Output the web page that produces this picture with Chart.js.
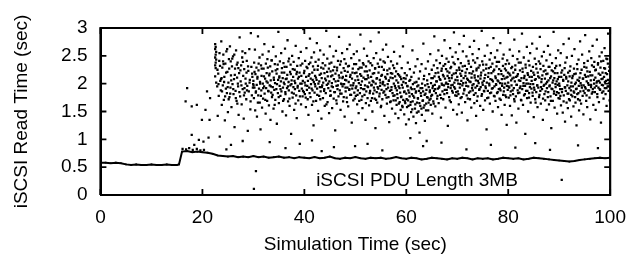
<!DOCTYPE html>
<html>
<head>
<meta charset="utf-8">
<script src="https://cdn.jsdelivr.net/npm/chart.js@4"></script>
<style>
  html, body { margin: 0; padding: 0; background: #fff; }
  #wrap { width: 637px; height: 256px; position: relative; }
</style>
</head>
<body>
<div id="wrap"><canvas id="read-chart"></canvas></div>
<script>
// tick labels
const timeTicks = [0, 20, 40, 60, 80, 100];
const readTicks = [0, 0.5, 1, 1.5, 2, 2.5, 3];

// the dense "floor" of read times
const baselineTime = [0,1,2,3,4,5,6,7,8,9,10,11,12,13,14,15,15.4,16,17,18,19,20,21,22,23,24,25,26,27,28,29,30,31,32,33,34,35,36,37,38,39,40,41,42,43,44,45,46,47,48,49,50,51,52,53,54,55,56,57,58,59,60,61,62,63,64,65,66,67,68,69,70,71,72,73,74,75,76,77,78,79,80,81,82,83,84,85,86,87,88,89,90,91,92,93,94,95,96,97,98,99,100];
const baselineRead = [0.58,0.58,0.57,0.58,0.57,0.55,0.54,0.55,0.54,0.54,0.55,0.54,0.54,0.55,0.54,0.54,0.55,0.78,0.79,0.77,0.78,0.77,0.76,0.74,0.71,0.7,0.69,0.7,0.68,0.69,0.68,0.7,0.68,0.69,0.67,0.68,0.69,0.67,0.68,0.66,0.68,0.67,0.66,0.68,0.66,0.67,0.69,0.66,0.65,0.67,0.66,0.68,0.66,0.65,0.67,0.66,0.67,0.65,0.66,0.68,0.66,0.65,0.67,0.66,0.64,0.65,0.67,0.66,0.65,0.64,0.66,0.65,0.67,0.66,0.64,0.66,0.65,0.66,0.64,0.65,0.67,0.66,0.65,0.66,0.64,0.65,0.67,0.66,0.65,0.64,0.63,0.62,0.61,0.6,0.61,0.63,0.64,0.65,0.66,0.67,0.66,0.67];

// scattered read times, [time, read]
const cloudStart = [[16.1,0.83],[16.8,0.82],[17.4,0.84],[18.1,0.81],[18.9,0.83],[19.6,0.8],[20.3,0.81],
  [16.7,1.68],[17.0,1.92],[17.9,1.59],[18.9,1.62],[20.6,1.53],[17.9,1.08],[19.3,0.99],[20.2,0.96],[21.2,1.03],[20.9,1.86],[21.5,1.74],[21.4,1.35],[19.9,1.35],[18.4,0.9],
  [22.5,2.71],[22.6,2.66],[22.5,2.62],[22.7,2.57],[22.6,2.52],[22.5,2.47],[22.7,2.43],[22.6,2.38],[22.5,2.33],[22.6,2.28],[22.5,2.13],[22.7,2.02],
  [22.9,1.95],[23.0,1.42],[23.1,2.18],[23.2,1.78],[23.3,2.41],[23.4,1.05],[23.5,2.05],[23.6,1.88],[23.7,2.76],[23.8,1.62],[23.9,2.29],[24.0,1.97],[24.1,2.52],[24.2,1.71],[24.3,2.12],[24.4,1.34],[24.5,2.36],[24.6,1.91],[24.7,2.58],[24.8,1.83],[24.9,2.21],[25.0,1.49],[25.1,2.02],[25.2,2.44],[25.3,1.76],[25.4,2.67],[25.5,1.93],[25.6,2.15],[25.7,1.58],[25.8,2.31],[25.9,1.99],[26.0,2.49],[26.1,1.81],[26.2,2.08],[26.3,1.22],[26.4,2.27],[26.5,1.87],[26.6,2.6],[26.7,1.69],[26.8,2.11],[26.9,2.38],[27.0,1.95],[27.1,1.44],[27.2,2.19],[27.3,2.83],[27.4,1.77],[27.5,2.04],[27.6,2.33],[27.7,1.63],[27.8,2.47],[27.9,1.9],[28.0,2.14],[28.1,1.37],[28.2,2.26],[28.3,1.84],[28.4,2.55],[28.5,2.0],[28.6,1.72],[28.7,2.41],[28.8,1.96],[28.9,1.15],[29.0,2.23],[29.1,1.86],[29.2,2.62],[29.3,2.07],[29.4,1.54],[29.5,2.91],[29.6,2.3],[29.7,1.79],[29.8,2.12],[29.9,1.93],[30.1,0.11],[30.5,0.43],
  [23.35,2.55],[24.15,2.35],[24.85,2.62],[25.55,2.4],[26.25,2.52],[27.05,2.28],[27.85,2.58],[28.65,2.2],[23.75,2.1],[25.15,1.72],[26.85,1.64],[28.25,1.92]];
const cloud30s = [[30.0,2.05],[30.1,1.74],[30.15,2.38],[30.2,1.93],[30.3,2.61],[30.35,1.52],[30.4,2.17],[30.5,1.86],[30.6,2.29],[30.65,1.98],[30.7,1.41],[30.8,2.12],[30.9,2.85],[30.95,1.79],[31.0,2.24],[31.1,1.91],[31.2,2.47],[31.25,1.66],[31.3,2.03],[31.4,1.18],[31.5,2.33],[31.55,1.88],[31.6,2.14],[31.7,1.57],[31.8,2.52],[31.85,2.0],[31.9,1.73],[32.0,2.27],[32.1,1.95],[32.15,2.71],[32.2,1.82],[32.3,2.09],[32.4,1.46],[32.45,2.36],[32.5,1.92],[32.6,2.19],[32.7,1.69],[32.75,2.44],[32.8,2.02],[32.9,1.87],[33.0,2.58],[33.05,1.61],[33.1,2.15],[33.2,1.97],[33.3,2.31],[33.35,1.35],[33.4,2.06],[33.5,1.84],[33.6,2.42],[33.65,1.76],[33.7,2.22],[33.8,1.94],[33.9,2.66],[33.95,1.55],[34.0,2.11],[34.1,1.89],[34.2,2.35],[34.25,2.01],[34.3,1.71],[34.4,2.49],[34.5,1.9],[34.55,2.18],[34.6,1.28],[34.7,2.26],[34.8,1.83],[34.85,2.07],[34.9,2.93],[35.0,1.65],[35.1,2.13],[35.15,1.96],[35.2,2.4],[35.3,1.78],[35.4,2.04],[35.45,2.55],[35.5,1.86],[35.6,2.28],[35.7,1.5],[35.75,2.1],[35.8,1.93],[35.9,2.37],[36.0,1.72],[36.05,2.2],[36.1,1.99],[36.2,2.63],[36.3,1.81],[36.35,2.08],[36.4,1.43],[36.5,2.3],[36.6,1.92],[36.65,2.16],[36.7,2.78],[36.8,1.68],[36.9,2.03],[36.95,1.88],[37.0,2.45],[37.1,1.6],[37.2,2.21],[37.25,1.97],[37.3,2.34],[37.4,1.1],[37.5,2.06],[37.55,1.84],[37.6,2.5],[37.7,1.75],[37.8,2.12],[37.85,1.94],[37.9,2.39],[38.0,1.53],[38.1,2.25],[38.15,1.9],[38.2,2.01],[38.3,2.68],[38.4,1.79],[38.45,2.17],[38.5,1.38],[38.6,2.32],[38.7,1.96],[38.75,2.09],[38.8,1.7],[38.9,2.46],[39.0,1.87],[39.05,2.2],[39.1,0.92],[39.2,2.0],[39.3,2.57],[39.35,1.63],[39.4,2.14],[39.5,1.91],[39.6,2.36],[39.65,1.77],[39.7,2.05],[39.8,2.98],[39.9,1.85]];
const cloud40s = [[40.0,2.23],[40.1,1.81],[40.15,2.41],[40.2,1.97],[40.3,1.58],[40.35,2.12],[40.4,2.64],[40.5,1.89],[40.6,2.28],[40.65,1.72],[40.7,2.05],[40.8,1.44],[40.9,2.35],[40.95,1.93],[41.0,2.17],[41.1,2.81],[41.2,1.76],[41.25,2.09],[41.3,1.99],[41.4,2.47],[41.5,1.62],[41.55,2.2],[41.6,1.88],[41.7,2.31],[41.8,1.25],[41.85,2.03],[41.9,2.56],[42.0,1.84],[42.1,2.14],[42.15,1.95],[42.2,2.39],[42.3,1.69],[42.4,2.07],[42.45,2.73],[42.5,1.91],[42.6,2.25],[42.7,1.51],[42.75,2.0],[42.8,2.43],[42.9,1.78],[43.0,2.16],[43.05,1.94],[43.1,2.6],[43.2,1.86],[43.3,2.29],[43.35,1.37],[43.4,2.1],[43.5,1.97],[43.6,2.37],[43.65,1.74],[43.7,2.02],[43.8,2.52],[43.9,1.9],[43.95,2.19],[44.0,1.6],[44.1,2.33],[44.2,1.83],[44.25,2.06],[44.3,2.95],[44.4,1.98],[44.5,2.45],[44.55,1.67],[44.6,2.13],[44.7,1.92],[44.8,2.27],[44.85,1.47],[44.9,2.04],[45.0,2.67],[45.1,1.87],[45.15,2.22],[45.2,1.79],[45.3,2.38],[45.4,2.01],[45.45,1.56],[45.5,2.15],[45.6,1.94],[45.7,2.49],[45.75,1.73],[45.8,2.08],[45.9,2.3],[46.0,1.85],[46.05,1.16],[46.1,2.18],[46.2,2.59],[46.3,1.96],[46.35,1.64],[46.4,2.24],[46.5,1.9],[46.6,2.41],[46.65,2.05],[46.7,1.77],[46.8,2.84],[46.9,2.11],[46.95,1.88],[47.0,2.34],[47.1,1.53],[47.2,2.0],[47.25,2.2],[47.3,1.82],[47.4,2.55],[47.5,1.95],[47.55,2.12],[47.6,1.68],[47.7,2.28],[47.8,1.99],[47.85,2.44],[47.9,1.41],[48.0,2.07],[48.1,1.86],[48.15,2.36],[48.2,2.14],[48.3,1.75],[48.4,2.62],[48.45,1.93],[48.5,2.21],[48.6,1.59],[48.7,2.03],[48.75,2.32],[48.8,1.89],[48.9,2.7],[49.0,1.8],[49.05,2.16],[49.1,1.97],[49.2,2.46],[49.3,1.3],[49.35,2.09],[49.4,1.91],[49.5,2.27],[49.6,1.7],[49.65,2.01],[49.7,2.53],[49.8,1.84],[49.9,2.19],[49.95,0.88]];
const cloud50s = [[50.0,2.06],[50.1,1.78],[50.15,2.35],[50.2,1.95],[50.3,2.58],[50.35,1.63],[50.4,2.13],[50.5,1.88],[50.6,2.26],[50.65,1.47],[50.7,2.01],[50.8,2.42],[50.9,1.83],[50.95,2.17],[51.0,2.88],[51.1,1.92],[51.2,1.71],[51.25,2.29],[51.3,2.04],[51.4,1.56],[51.5,2.37],[51.55,1.9],[51.6,2.11],[51.7,2.63],[51.8,1.8],[51.85,2.22],[51.9,1.97],[52.0,1.35],[52.1,2.31],[52.15,1.86],[52.2,2.08],[52.3,2.5],[52.4,1.74],[52.45,2.15],[52.5,1.94],[52.6,2.4],[52.7,1.61],[52.75,2.02],[52.8,2.24],[52.9,1.87],[53.0,2.76],[53.05,1.69],[53.1,2.12],[53.2,1.98],[53.3,2.33],[53.35,1.5],[53.4,2.05],[53.5,1.82],[53.6,2.46],[53.65,1.93],[53.7,2.19],[53.8,1.73],[53.9,2.28],[53.95,1.2],[54.0,2.0],[54.1,2.55],[54.2,1.85],[54.25,2.1],[54.3,1.66],[54.4,2.36],[54.5,1.91],[54.55,2.2],[54.6,2.92],[54.7,1.77],[54.8,2.07],[54.85,1.96],[54.9,2.43],[55.0,1.58],[55.1,2.14],[55.15,1.89],[55.2,2.3],[55.3,1.72],[55.4,2.61],[55.45,2.03],[55.5,1.84],[55.6,2.25],[55.7,1.42],[55.75,1.97],[55.8,2.38],[55.9,1.8],[56.0,2.09],[56.05,2.7],[56.1,1.9],[56.2,1.64],[56.3,2.17],[56.35,1.99],[56.4,2.48],[56.5,1.76],[56.6,2.06],[56.65,1.31],[56.7,2.27],[56.8,1.87],[56.9,2.11],[56.95,1.68],[57.0,2.4],[57.1,1.94],[57.2,1.55],[57.25,2.18],[57.3,1.83],[57.4,2.33],[57.5,1.7],[57.55,2.0],[57.6,2.57],[57.7,1.79],[57.8,2.13],[57.85,1.46],[57.9,1.92],[58.0,2.22],[58.1,1.62],[58.15,1.88],[58.2,2.36],[58.3,1.74],[58.4,2.02],[58.45,1.38],[58.5,1.95],[58.6,2.15],[58.7,1.67],[58.75,2.49],[58.8,1.84],[58.9,1.53],[59.0,2.08],[59.05,1.77],[59.1,2.28],[59.2,1.6],[59.3,1.93],[59.35,2.67],[59.4,1.71],[59.5,2.1],[59.6,1.45],[59.65,1.86],[59.7,2.19],[59.8,1.65],[59.9,2.01],[59.95,1.27]];
const cloud60s = [[60.0,1.82],[60.1,2.15],[60.15,1.58],[60.2,1.96],[60.3,2.38],[60.35,1.7],[60.4,1.88],[60.5,1.36],[60.6,2.05],[60.65,1.77],[60.7,2.26],[60.8,1.62],[60.9,1.93],[60.95,1.49],[61.0,2.12],[61.1,1.81],[61.2,2.6],[61.25,1.68],[61.3,1.99],[61.4,1.41],[61.5,2.2],[61.55,1.75],[61.6,1.9],[61.7,1.55],[61.8,2.31],[61.85,1.84],[61.9,1.29],[62.0,2.03],[62.1,1.66],[62.15,1.95],[62.2,2.44],[62.3,1.73],[62.4,1.5],[62.45,2.09],[62.5,1.87],[62.6,1.12],[62.7,2.22],[62.75,1.6],[62.8,1.92],[62.9,1.78],[63.0,2.35],[63.05,1.44],[63.1,2.0],[63.2,1.69],[63.3,1.86],[63.35,2.72],[63.4,1.57],[63.5,2.14],[63.6,1.8],[63.65,1.33],[63.7,1.97],[63.8,2.27],[63.9,1.64],[63.95,1.89],[64.0,0.97],[64.1,2.06],[64.2,1.75],[64.25,2.4],[64.3,1.52],[64.4,1.94],[64.5,2.17],[64.55,1.71],[64.6,1.85],[64.7,2.53],[64.8,1.62],[64.85,2.01],[64.9,1.78],[65.0,2.25],[65.1,1.46],[65.15,1.92],[65.2,2.1],[65.3,1.68],[65.4,2.33],[65.45,1.87],[65.5,2.85],[65.6,1.98],[65.7,1.59],[65.75,2.19],[65.8,1.83],[65.9,2.42],[66.0,2.04],[66.05,1.73],[66.1,2.28],[66.2,1.91],[66.3,2.6],[66.35,1.65],[66.4,2.12],[66.5,1.95],[66.6,2.37],[66.65,1.8],[66.7,2.07],[66.8,1.39],[66.9,2.23],[66.95,2.0],[67.0,2.5],[67.1,1.86],[67.2,2.16],[67.25,1.72],[67.3,2.32],[67.4,1.97],[67.5,2.78],[67.55,1.89],[67.6,2.09],[67.7,1.57],[67.8,2.26],[67.85,2.02],[67.9,2.45],[68.0,1.83],[68.1,2.14],[68.15,1.24],[68.2,1.99],[68.3,2.39],[68.4,1.76],[68.45,2.2],[68.5,2.05],[68.6,2.64],[68.7,1.92],[68.75,1.67],[68.8,2.3],[68.9,2.1],[69.0,1.87],[69.05,2.48],[69.1,1.98],[69.2,1.53],[69.3,2.18],[69.35,2.92],[69.4,1.94],[69.5,2.35],[69.6,1.79],[69.65,2.07],[69.7,2.56],[69.8,1.85],[69.9,2.24],[69.95,1.45]];
const cloud70s = [[70.0,2.12],[70.1,1.86],[70.15,2.44],[70.2,2.0],[70.3,1.63],[70.35,2.29],[70.4,2.71],[70.5,1.93],[70.6,2.18],[70.65,1.74],[70.7,2.37],[70.8,2.05],[70.9,1.48],[70.95,2.23],[71.0,1.97],[71.1,2.58],[71.2,1.82],[71.25,2.1],[71.3,2.86],[71.4,1.9],[71.5,2.32],[71.55,1.67],[71.6,2.14],[71.7,2.02],[71.8,2.49],[71.85,1.79],[71.9,2.26],[72.0,1.34],[72.1,2.07],[72.15,1.95],[72.2,2.41],[72.3,1.84],[72.4,2.19],[72.45,2.66],[72.5,1.72],[72.6,2.03],[72.7,2.3],[72.75,1.57],[72.8,2.11],[72.9,1.92],[73.0,2.53],[73.05,1.88],[73.1,2.22],[73.2,1.99],[73.3,2.77],[73.35,1.65],[73.4,2.15],[73.5,2.38],[73.6,1.83],[73.65,2.06],[73.7,1.42],[73.8,2.27],[73.9,1.96],[73.95,2.46],[74.0,1.77],[74.1,2.13],[74.2,2.01],[74.25,2.62],[74.3,1.89],[74.4,2.33],[74.5,1.6],[74.55,2.09],[74.6,1.94],[74.7,2.2],[74.8,2.95],[74.85,1.81],[74.9,2.4],[75.0,1.98],[75.1,1.53],[75.15,2.24],[75.2,2.05],[75.3,1.86],[75.4,2.5],[75.45,1.7],[75.5,2.16],[75.6,1.92],[75.7,2.34],[75.75,1.18],[75.8,2.02],[75.9,2.69],[76.0,1.87],[76.05,2.12],[76.1,1.75],[76.2,2.28],[76.3,1.97],[76.35,2.43],[76.4,1.64],[76.5,2.08],[76.6,2.55],[76.65,1.84],[76.7,2.19],[76.8,1.91],[76.9,2.36],[76.95,1.5],[77.0,2.04],[77.1,2.82],[77.2,1.78],[77.25,2.25],[77.3,1.95],[77.4,2.47],[77.5,1.69],[77.55,2.1],[77.6,1.99],[77.7,2.31],[77.8,1.83],[77.85,2.6],[77.9,2.06],[78.0,1.58],[78.1,2.17],[78.15,1.9],[78.2,2.39],[78.3,1.73],[78.4,2.01],[78.45,2.73],[78.5,1.88],[78.6,2.23],[78.7,1.44],[78.75,2.08],[78.8,1.96],[78.9,2.45],[79.0,1.8],[79.05,2.14],[79.1,2.52],[79.2,1.93],[79.3,1.62],[79.35,2.27],[79.4,2.0],[79.5,2.35],[79.6,1.76],[79.65,2.11],[79.7,1.26],[79.8,2.42],[79.9,1.89],[79.95,2.2]];
const cloud80s = [[80.0,2.02],[80.1,1.75],[80.15,2.36],[80.2,1.93],[80.3,2.61],[80.35,1.6],[80.4,2.15],[80.5,1.86],[80.6,2.28],[80.65,1.97],[80.7,1.43],[80.8,2.09],[80.9,2.5],[80.95,1.81],[81.0,2.2],[81.1,1.92],[81.2,2.79],[81.25,1.68],[81.3,2.04],[81.4,2.33],[81.5,1.77],[81.55,2.12],[81.6,1.3],[81.7,1.98],[81.8,2.44],[81.85,1.88],[81.9,2.17],[82.0,1.55],[82.1,2.06],[82.15,2.58],[82.2,1.84],[82.3,2.24],[82.4,1.95],[82.45,2.38],[82.5,1.71],[82.6,2.1],[82.7,2.9],[82.75,1.9],[82.8,2.27],[82.9,1.62],[83.0,2.01],[83.05,2.47],[83.1,1.79],[83.2,2.14],[83.3,1.96],[83.35,1.1],[83.4,2.34],[83.5,1.87],[83.6,2.07],[83.65,2.66],[83.7,1.74],[83.8,2.19],[83.9,1.5],[83.95,2.0],[84.0,2.41],[84.1,1.83],[84.2,2.12],[84.25,1.94],[84.3,2.55],[84.4,1.66],[84.5,2.23],[84.55,1.91],[84.6,2.05],[84.7,2.72],[84.8,1.78],[84.85,2.3],[84.9,1.99],[85.0,1.4],[85.1,2.16],[85.15,1.89],[85.2,2.45],[85.3,1.72],[85.4,2.08],[85.45,2.35],[85.5,1.85],[85.6,2.63],[85.7,1.97],[85.75,1.58],[85.8,2.2],[85.9,1.93],[86.0,2.4],[86.05,1.76],[86.1,2.11],[86.2,2.84],[86.3,1.87],[86.35,2.26],[86.4,1.64],[86.5,2.03],[86.6,2.49],[86.65,1.9],[86.7,2.15],[86.8,1.35],[86.9,2.32],[86.95,1.96],[87.0,2.57],[87.1,1.81],[87.2,2.09],[87.25,1.7],[87.3,2.24],[87.4,2.0],[87.5,2.42],[87.55,1.53],[87.6,1.92],[87.7,2.18],[87.8,2.68],[87.85,1.85],[87.9,2.06],[88.0,1.63],[88.1,2.3],[88.15,1.97],[88.2,2.52],[88.3,1.77],[88.4,2.13],[88.45,1.2],[88.5,1.91],[88.6,2.37],[88.7,2.02],[88.75,1.69],[88.8,2.22],[88.9,2.93],[89.0,1.86],[89.05,2.1],[89.1,1.57],[89.2,2.28],[89.3,1.94],[89.35,2.46],[89.4,1.8],[89.5,2.04],[89.6,1.46],[89.65,2.19],[89.7,1.98],[89.8,2.6],[89.9,1.83],[89.95,2.12]];
const cloud90s = [[90.0,2.0],[90.1,1.73],[90.15,2.33],[90.2,1.9],[90.3,2.55],[90.35,1.61],[90.4,2.12],[90.5,0.27],[90.55,1.85],[90.6,2.24],[90.7,1.48],[90.8,2.05],[90.85,2.71],[90.9,1.79],[91.0,2.16],[91.1,1.94],[91.15,1.32],[91.2,2.38],[91.3,1.87],[91.4,2.09],[91.45,1.66],[91.5,2.47],[91.6,1.97],[91.7,1.56],[91.75,2.2],[91.8,1.82],[91.9,2.81],[92.0,1.92],[92.05,2.13],[92.1,1.7],[92.2,2.31],[92.3,1.88],[92.35,1.41],[92.4,2.02],[92.5,2.5],[92.6,1.77],[92.65,2.14],[92.7,1.95],[92.8,1.59],[92.9,2.27],[92.95,1.84],[93.0,2.62],[93.1,1.99],[93.2,1.66],[93.25,2.18],[93.3,1.9],[93.4,1.25],[93.5,2.35],[93.55,1.81],[93.6,2.07],[93.7,1.72],[93.8,2.43],[93.85,1.96],[93.9,1.52],[94.0,2.11],[94.1,2.76],[94.15,1.86],[94.2,2.01],[94.3,1.64],[94.4,2.25],[94.45,1.93],[94.5,2.52],[94.6,1.78],[94.7,2.09],[94.75,1.45],[94.8,1.97],[94.9,2.37],[95.0,1.83],[95.05,2.16],[95.1,2.87],[95.2,1.91],[95.3,1.69],[95.35,2.29],[95.4,2.04],[95.5,1.58],[95.6,2.41],[95.65,1.88],[95.7,2.13],[95.8,1.98],[95.9,2.58],[95.95,1.75],[96.0,2.21],[96.1,1.36],[96.2,2.06],[96.25,1.94],[96.3,2.46],[96.4,1.82],[96.5,2.15],[96.55,2.68],[96.6,1.9],[96.7,1.62],[96.8,2.3],[96.85,2.0],[96.9,2.39],[97.0,1.85],[97.1,2.11],[97.15,1.53],[97.2,2.25],[97.3,1.96],[97.4,2.79],[97.45,2.04],[97.5,1.76],[97.6,2.34],[97.7,1.93],[97.75,2.18],[97.8,1.67],[97.9,2.49],[98.0,2.02],[98.05,1.89],[98.1,2.29],[98.2,1.3],[98.3,2.08],[98.35,2.56],[98.4,1.84],[98.5,2.2],[98.6,1.97],[98.65,2.41],[98.7,1.73],[98.8,2.12],[98.9,2.64],[98.95,1.92],[99.0,2.27],[99.1,1.81],[99.2,2.05],[99.25,2.45],[99.3,1.6],[99.4,2.17],[99.5,1.95],[99.55,2.36],[99.6,2.9],[99.7,1.87],[99.8,2.23],[99.85,2.02],[99.9,1.7]];

// thicker core of the cloud (1.6 - 2.4 s)
const core20s = [[22.95,2.25],[23.15,1.99],[23.45,2.32],[23.65,2.08],[23.85,1.86],[24.05,2.4],[24.25,2.03],[24.45,1.77],[24.65,2.2],[24.95,1.94],[25.25,2.27],[25.45,1.82],[25.65,2.06],[25.85,2.45],[26.05,1.9],[26.35,2.16],[26.55,1.74],[26.75,2.34],[26.95,2.0],[27.25,1.85],[27.45,2.24],[27.65,1.97],[27.95,2.39],[28.15,1.79],[28.45,2.09],[28.75,1.88],[28.95,2.31],[29.25,2.02],[29.45,1.68],[29.75,2.18],[29.95,1.99]];
const core30s = [[30.03,1.97],[30.22,2.21],[30.47,1.84],[30.78,2.09],[30.88,1.66],[31.03,2.36],[31.33,2.0],[31.47,1.78],[31.63,2.27],[31.93,1.92],[32.07,2.13],[32.33,1.71],[32.57,2.04],[32.83,2.29],[32.97,1.86],[33.17,2.18],[33.43,1.95],[33.57,2.42],[33.77,1.8],[34.03,2.07],[34.17,1.62],[34.37,2.24],[34.63,1.99],[34.77,2.34],[34.97,1.76],[35.07,2.11],[35.33,1.9],[35.57,2.2],[35.83,1.69],[35.97,2.02],[36.13,2.3],[36.27,1.85],[36.53,2.09],[36.77,1.95],[36.87,2.4],[37.07,1.73],[37.33,2.17],[37.47,1.99],[37.73,2.26],[37.93,1.82],[38.07,2.05],[38.27,1.64],[38.53,2.21],[38.67,1.93],[38.93,2.12],[39.13,1.77],[39.27,2.33],[39.47,2.0],[39.73,1.87],[39.93,2.19]];
const core40s = [[40.07,2.02],[40.27,1.75],[40.43,2.3],[40.57,1.96],[40.83,2.14],[41.03,1.83],[41.17,2.38],[41.43,1.91],[41.63,2.07],[41.77,1.68],[41.97,2.25],[42.07,1.99],[42.27,2.11],[42.53,1.8],[42.67,2.32],[42.93,2.04],[43.13,1.72],[43.27,2.18],[43.43,1.94],[43.73,2.27],[43.87,1.87],[44.07,2.09],[44.33,1.63],[44.47,2.21],[44.67,2.0],[44.93,2.36],[45.07,1.78],[45.23,2.13],[45.37,1.95],[45.63,2.24],[45.87,1.85],[46.13,2.04],[46.27,1.7],[46.43,2.29],[46.57,1.97],[46.77,2.15],[47.03,1.82],[47.17,2.4],[47.33,1.99],[47.47,2.1],[47.73,1.76],[47.93,2.23],[48.07,1.93],[48.23,2.06],[48.37,1.67],[48.57,2.31],[48.83,1.9],[48.97,2.12],[49.17,1.8],[49.43,2.2],[49.57,1.97],[49.77,2.35],[49.87,1.73]];
const core50s = [[50.07,1.92],[50.23,2.2],[50.43,1.8],[50.57,2.07],[50.77,1.69],[50.87,2.29],[51.07,1.98],[51.17,2.14],[51.37,1.77],[51.63,2.34],[51.77,1.9],[51.93,2.08],[52.07,1.65],[52.27,2.22],[52.37,1.95],[52.57,2.11],[52.83,1.83],[52.97,2.37],[53.13,1.97],[53.27,1.74],[53.43,2.18],[53.57,2.03],[53.77,1.88],[53.87,2.27],[54.07,1.71],[54.17,2.09],[54.37,1.94],[54.63,2.3],[54.77,1.82],[54.93,2.02],[55.07,1.6],[55.23,2.16],[55.37,1.99],[55.53,2.4],[55.67,1.86],[55.87,2.12],[56.13,1.75],[56.27,2.24],[56.43,1.93],[56.57,2.05],[56.83,1.67],[56.97,2.19],[57.07,1.89],[57.33,2.1],[57.47,1.78],[57.63,2.28],[57.77,1.96],[57.93,1.7],[58.07,2.06],[58.23,1.81],[58.37,2.17],[58.53,1.64],[58.67,1.92],[58.83,2.12],[58.97,1.76],[59.13,1.98],[59.27,1.58],[59.43,2.03],[59.57,1.85],[59.73,1.68],[59.87,2.09]];
const core60s = [[60.07,1.72],[60.23,1.95],[60.43,1.6],[60.57,1.84],[60.77,2.07],[60.87,1.67],[61.07,1.9],[61.17,1.54],[61.37,1.78],[61.63,2.02],[61.77,1.63],[61.93,1.86],[62.07,1.48],[62.27,1.74],[62.37,1.97],[62.57,1.65],[62.83,1.83],[62.97,1.55],[63.13,1.92],[63.27,1.7],[63.43,2.08],[63.57,1.61],[63.77,1.82],[63.87,1.52],[64.07,1.76],[64.17,1.99],[64.37,1.66],[64.63,1.88],[64.77,1.73],[64.93,2.1],[65.07,1.8],[65.23,1.96],[65.37,1.64],[65.53,2.13],[65.67,1.9],[65.87,2.04],[66.13,1.78],[66.27,2.2],[66.43,1.93],[66.57,2.08],[66.83,1.74],[66.97,2.27],[67.07,1.98],[67.33,2.13],[67.47,1.81],[67.63,2.35],[67.77,2.0],[67.93,1.89],[68.07,2.22],[68.23,1.94],[68.37,2.1],[68.53,1.7],[68.67,2.28],[68.83,1.97],[68.97,2.15],[69.13,1.84],[69.27,2.38],[69.43,2.02],[69.57,1.91],[69.73,2.19],[69.87,1.78]];
const core70s = [[70.07,2.06],[70.23,1.81],[70.43,2.25],[70.57,1.99],[70.77,2.14],[70.87,1.76],[71.07,2.31],[71.17,2.01],[71.37,1.88],[71.63,2.2],[71.77,1.96],[71.93,2.09],[72.07,1.73],[72.27,2.36],[72.37,2.04],[72.57,1.86],[72.83,2.18],[72.97,1.97],[73.13,2.42],[73.27,1.8],[73.43,2.11],[73.57,1.93],[73.77,2.24],[73.87,1.69],[74.07,2.05],[74.17,2.29],[74.37,1.9],[74.63,2.15],[74.77,1.78],[74.93,2.02],[75.07,2.34],[75.23,1.87],[75.37,2.1],[75.53,1.95],[75.67,2.27],[75.87,1.74],[76.13,2.19],[76.27,2.0],[76.43,1.83],[76.57,2.3],[76.83,2.07],[76.97,1.92],[77.07,2.22],[77.33,1.77],[77.47,2.13],[77.63,1.98],[77.77,2.39],[77.93,1.85],[78.07,2.04],[78.23,2.26],[78.37,1.91],[78.53,1.71],[78.67,2.17],[78.83,2.0],[78.97,2.32],[79.13,1.86],[79.27,2.09],[79.43,1.79],[79.57,2.24],[79.73,1.96],[79.87,2.12]];
const core80s = [[80.07,1.95],[80.23,2.18],[80.43,1.79],[80.57,2.06],[80.77,2.3],[80.87,1.88],[81.07,2.11],[81.17,1.72],[81.37,2.25],[81.63,1.98],[81.77,2.14],[81.93,1.83],[82.07,2.38],[82.27,1.92],[82.37,2.05],[82.57,1.7],[82.83,2.21],[82.97,1.96],[83.13,2.1],[83.27,1.81],[83.43,2.29],[83.57,2.0],[83.77,1.87],[83.87,2.16],[84.07,1.75],[84.17,2.33],[84.37,1.99],[84.63,2.12],[84.77,1.84],[84.93,2.2],[85.07,1.93],[85.23,2.07],[85.37,1.66],[85.53,2.27],[85.67,1.97],[85.87,2.13],[86.13,1.8],[86.27,2.36],[86.43,1.94],[86.57,2.08],[86.83,1.73],[86.97,2.22],[87.07,1.98],[87.33,1.86],[87.47,2.17],[87.63,2.03],[87.77,1.76],[87.93,2.3],[88.07,1.95],[88.23,2.1],[88.37,1.69],[88.53,2.24],[88.67,1.9],[88.83,2.06],[88.97,1.82],[89.13,2.19],[89.27,1.99],[89.43,2.32],[89.57,1.85],[89.73,2.08],[89.87,1.74]];
const core90s = [[90.07,1.96],[90.23,1.78],[90.43,2.2],[90.57,1.9],[90.77,2.07],[90.87,1.68],[91.07,2.28],[91.17,1.93],[91.37,2.12],[91.63,1.82],[91.77,2.04],[91.93,1.72],[92.07,2.23],[92.27,1.95],[92.37,1.8],[92.57,2.1],[92.83,1.86],[92.97,2.17],[93.13,1.76],[93.27,2.02],[93.43,1.91],[93.57,2.26],[93.77,1.83],[93.87,2.05],[94.07,1.7],[94.17,2.19],[94.37,1.97],[94.63,2.09],[94.77,1.87],[94.93,2.3],[95.07,1.94],[95.23,2.12],[95.37,1.79],[95.53,2.22],[95.67,2.01],[95.87,1.88],[96.13,2.15],[96.27,1.98],[96.43,2.33],[96.57,1.85],[96.83,2.07],[96.97,1.93],[97.07,2.24],[97.33,2.02],[97.47,1.81],[97.63,2.37],[97.77,2.05],[97.93,1.9],[98.07,2.16],[98.23,2.4],[98.37,1.98],[98.53,2.09],[98.67,1.86],[98.83,2.28],[98.97,2.03],[99.13,2.19],[99.27,1.92],[99.43,2.44],[99.57,2.07],[99.73,1.95],[99.87,2.3]];

// odd ones sitting just above the floor
const stragglers = [[24.7,0.82],[25.6,0.9],[27.9,0.97],[33.2,0.95],[36.3,0.84],[41.5,0.98],[43.4,0.79],[45.8,0.86],[52.4,0.92],[55.3,0.8],[60.8,1.02],[63.3,0.88],[66.9,0.94],[71.8,0.82],[76.6,0.9],[81.4,0.85],[85.3,0.93],[88.2,0.81],[93.7,0.89],[97.6,0.84]];

const noteText = 'iSCSI PDU Length 3MB';
const notePos = [62.1, 0.16];

const FONT = "'Liberation Sans', Arial, Helvetica, sans-serif";
Chart.defaults.font.family = FONT;
Chart.defaults.font.size = 19;
Chart.defaults.color = '#000';

const toPts = arr => arr.map(p => ({x: p[0], y: p[1]}));
const cloud = [].concat(cloudStart, cloud30s, cloud40s, cloud50s, cloud60s, cloud70s, cloud80s, cloud90s,
  core20s, core30s, core40s, core50s, core60s, core70s, core80s, core90s, stragglers);

// axis box and inward tick marks, as plain line segments in axis units
const xMin = timeTicks[0], xMax = timeTicks[timeTicks.length - 1];
const yMin = readTicks[0], yMax = readTicks[readTicks.length - 1];
const xTickLen = (xMax - xMin) * 0.0116;   // ~6px
const yTickLen = (yMax - yMin) * 0.036;    // ~6px
const boxPts = [{x: xMin, y: yMin}, {x: xMax, y: yMin}, {x: xMax, y: yMax}, {x: xMin, y: yMax}, {x: xMin, y: yMin}];
const tickPts = [];
readTicks.forEach(v => {
  tickPts.push({x: xMin, y: v}, {x: xMin + xTickLen, y: v}, {x: null, y: null});
  tickPts.push({x: xMax - xTickLen, y: v}, {x: xMax, y: v}, {x: null, y: null});
});
timeTicks.forEach(v => {
  tickPts.push({x: v, y: yMin}, {x: v, y: yMin + yTickLen}, {x: null, y: null});
  tickPts.push({x: v, y: yMax - yTickLen}, {x: v, y: yMax}, {x: null, y: null});
});

const notePlugin = {
  id: 'note',
  afterDraw(chart) {
    const x = chart.scales.x, y = chart.scales.y;
    const ctx = chart.ctx;
    ctx.save();
    ctx.fillStyle = '#000';
    ctx.font = '19px ' + FONT;
    ctx.textAlign = 'center';
    ctx.textBaseline = 'alphabetic';
    ctx.fillText(noteText, x.getPixelForValue(notePos[0]), y.getPixelForValue(notePos[1]));
    ctx.restore();
  }
};

new Chart(document.getElementById('read-chart'), {
  type: 'scatter',
  data: {
    datasets: [
      {
        label: 'floor',
        data: baselineTime.map((t, i) => ({x: t, y: baselineRead[i]})),
        showLine: true,
        borderColor: '#000',
        borderWidth: 2,
        backgroundColor: '#000',
        pointStyle: 'rect',
        pointRadius: 1.2,
        pointBorderWidth: 0
      },
      {
        label: 'reads',
        data: toPts(cloud),
        backgroundColor: '#000',
        borderColor: '#000',
        pointStyle: 'rect',
        pointRadius: 1.6,
        pointBorderWidth: 0
      },
      {
        label: 'box',
        data: boxPts,
        showLine: true,
        borderColor: '#000',
        borderWidth: 2.2,
        pointRadius: 0,
        clip: false
      },
      {
        label: 'ticks',
        data: tickPts,
        showLine: true,
        spanGaps: false,
        borderColor: '#000',
        borderWidth: 1.8,
        pointRadius: 0,
        clip: false
      }
    ]
  },
  options: {
    responsive: true,
    maintainAspectRatio: false,
    animation: false,
    events: [],
    layout: { padding: { top: 28, right: 20, bottom: 0, left: 0 } },
    plugins: { legend: { display: false }, tooltip: { enabled: false } },
    scales: {
      x: {
        min: xMin, max: xMax,
        afterFit: s => { s.height = 61; },
        grid: { display: false, drawTicks: false },
        border: { display: true, color: '#000', width: 2 },
        ticks: { stepSize: 20, padding: 11, maxRotation: 0 },
        title: { display: true, text: 'Simulation Time (sec)', font: { lineHeight: 1.15 }, padding: { top: 0, bottom: 0 } }
      },
      y: {
        min: yMin, max: yMax,
        afterFit: s => { s.width = 100.5; },
        grid: { display: false, drawTicks: false },
        border: { display: true, color: '#000', width: 2 },
        ticks: { stepSize: 0.5, padding: 13, callback: v => String(v) },
        title: { display: true, text: 'iSCSI Read Time (sec)', padding: { top: 10, bottom: 0 } }
      }
    }
  },
  plugins: [notePlugin]
});
</script>
</body>
</html>
